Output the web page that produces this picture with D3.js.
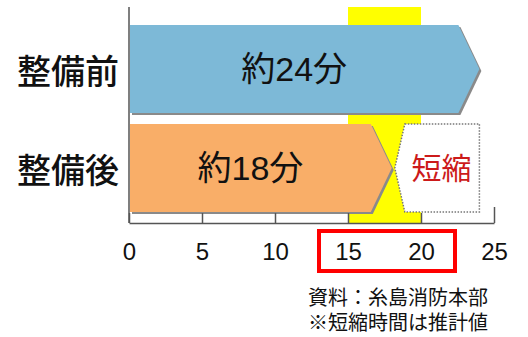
<!DOCTYPE html>
<html>
<head>
<meta charset="utf-8">
<script src="https://cdn.jsdelivr.net/npm/d3@7"></script>
<style>
  body { margin: 0; background: #fff; }
  svg { display: block; }
  text { font-family: "Liberation Sans", "Noto Sans CJK JP", sans-serif; }
</style>
</head>
<body>
<svg width="528" height="337"></svg>
<script>
// data ==========================================================
var categories = ["整備前", "整備後"];
var minutes = [24, 18];
var barLabels = ["約24分", "約18分"];
var barColors = ["#7db9d7", "#f9ae68"];
var tickValues = [0, 5, 10, 15, 20, 25];
var highlightRange = [15, 20];
var cutLabel = "短縮";
var notes = ["資料：糸島消防本部", "※短縮時間は推計値"];

// setup =========================================================
var svg = d3.select("svg");
var axisY = 223, topY = 7;

var x = d3.scaleLinear().domain([0, 25]).range([129, 494]);
var y = d3.scaleBand().domain(categories).range([25, 212]).paddingInner(0.11).paddingOuter(0);
var tip = 21;

// arrow shaped bar path
function arrowPath(v, cat, dx, dy) {
  var x0 = x(0) + 1, x1 = x(v), y0 = y(cat), h = y.bandwidth();
  return "M" + (x0 + dx) + "," + (y0 + dy) +
    "L" + (x1 - tip + dx) + "," + (y0 + dy) +
    "L" + (x1 + dx) + "," + (y0 + h / 2 + dy) +
    "L" + (x1 - tip + dx) + "," + (y0 + h + dy) +
    "L" + (x0 + dx) + "," + (y0 + h + dy) + "Z";
}

// yellow band behind
svg.append("rect")
  .attr("x", x(highlightRange[0]))
  .attr("y", topY)
  .attr("width", x(highlightRange[1]) - x(highlightRange[0]))
  .attr("height", axisY - topY)
  .attr("fill", "#ffff00");

// bars with shadow
var bars = svg.append("g");
categories.forEach(function(c, i) {
  bars.append("path").attr("d", arrowPath(minutes[i], c, 2, 2)).attr("fill", "#8a8a8a");
  bars.append("path").attr("d", arrowPath(minutes[i], c, 0, 0)).attr("fill", barColors[i]);
  bars.append("text")
    .attr("x", (x(0) + x(minutes[i])) / 2 - 10)
    .attr("y", y(c) + y.bandwidth() / 2)
    .attr("dy", "0.36em")
    .attr("text-anchor", "middle")
    .attr("font-size", 34)
    .attr("fill", "#111")
    .text(barLabels[i]);
});

// dotted "短縮" box next to the shorter bar
var c2 = categories[1], by = y(c2), bh = y.bandwidth();
var bx = x(minutes[1]);
svg.append("path")
  .attr("d", "M" + (bx + 13) + "," + by + "L" + x(24) + "," + by + "L" + x(24) + "," + (by + bh) +
    "L" + (bx + 13) + "," + (by + bh) + "L" + (bx + 3) + "," + (by + bh / 2) + "Z")
  .attr("fill", "#fff")
  .attr("stroke", "#777")
  .attr("stroke-width", 1.5)
  .attr("stroke-dasharray", "1.5,1.5");
svg.append("text")
  .attr("x", (bx + x(24)) / 2 + 6)
  .attr("y", by + bh / 2)
  .attr("dy", "0.36em")
  .attr("text-anchor", "middle")
  .attr("font-size", 30)
  .attr("fill", "#cc1a1a")
  .style("font-family", "'Noto Sans CJK JP'")
  .text(cutLabel);

// category labels
svg.selectAll(".cat").data(categories).enter().append("text")
  .attr("class", "cat")
  .attr("x", 68)
  .attr("y", function(d) { return y(d) + y.bandwidth() / 2 + 3; })
  .attr("dy", "0.36em")
  .attr("text-anchor", "middle")
  .attr("font-size", 34)
  .attr("font-weight", 500)
  .attr("fill", "#111")
  .style("font-family", "'Noto Sans CJK JP'")
  .text(function(d) { return d; });

// axes
var xAxis = d3.axisBottom(x).tickValues(tickValues).tickSizeInner(-10).tickSizeOuter(0).tickPadding(20);
var gx = svg.append("g").attr("transform", "translate(0," + axisY + ")").call(xAxis);
gx.select(".domain").attr("stroke", "#555").attr("stroke-width", 1.5);
gx.selectAll(".tick line").attr("stroke", "#555").attr("stroke-width", 1.5)
  .attr("y2", function(d) { return d == 25 ? -16 : -10; });
gx.selectAll(".tick text").attr("font-size", 24).attr("fill", "#111")
  .style("font-family", "'Liberation Sans', sans-serif");

svg.append("line")
  .attr("x1", x(0)).attr("x2", x(0))
  .attr("y1", topY).attr("y2", axisY)
  .attr("stroke", "#555").attr("stroke-width", 1.5);

// red box round 15..20 labels
svg.append("rect")
  .attr("x", x(highlightRange[0]) - 29)
  .attr("y", 231)
  .attr("width", x(highlightRange[1]) - x(highlightRange[0]) + 63)
  .attr("height", 40)
  .attr("fill", "none")
  .attr("stroke", "#ff0000")
  .attr("stroke-width", 4);

// notes
svg.selectAll(".note").data(notes).enter().append("text")
  .attr("class", "note")
  .attr("x", 308)
  .attr("y", function(d, i) { return 298 + i * 25; })
  .attr("dy", "0.36em")
  .attr("font-size", 20)
  .attr("fill", "#111")
  .text(function(d) { return d; });
</script>
</body>
</html>
